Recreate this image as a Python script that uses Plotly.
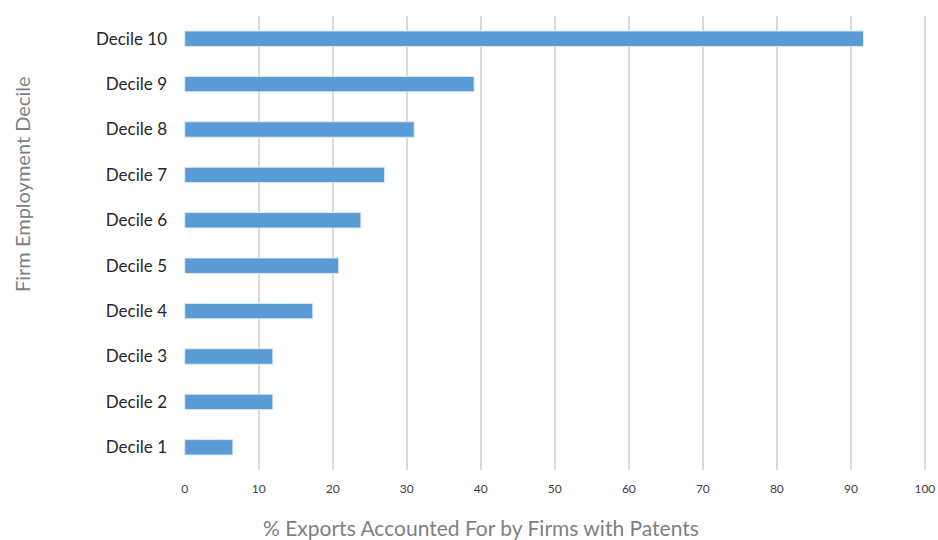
import plotly.graph_objects as go

# Share of exports accounted for by firms holding patents, by employment decile
deciles = ["Decile 1", "Decile 2", "Decile 3", "Decile 4", "Decile 5",
           "Decile 6", "Decile 7", "Decile 8", "Decile 9", "Decile 10"]
export_share = [6.5, 11.9, 11.9, 17.3, 20.8, 23.8, 27.0, 31.0, 39.1, 91.7]
x_ticks = [0, 10, 20, 30, 40, 50, 60, 70, 80, 90, 100]

FONT = "Lato"
TITLE_GREY = "#7f7f7f"
W, H = 938, 540
M_L, M_R, M_T, M_B = 184, 12, 16, 70
PLOT_W = W - M_L - M_R
PLOT_H = H - M_T - M_B

fig = go.Figure(
    go.Bar(
        x=export_share,
        y=deciles,
        orientation="h",
        marker=dict(color="#5b9bd5", line=dict(color="#ddeaf6", width=1)),
        hoverinfo="x+y",
    )
)

fig.update_layout(
    width=W,
    height=H,
    margin=dict(l=M_L, r=M_R, t=M_T, b=M_B),
    paper_bgcolor="white",
    plot_bgcolor="white",
    bargap=0.66,
    showlegend=False,
    font=dict(family=FONT, color="#404040"),
    annotations=[
        # axis titles placed in paper coordinates
        dict(
            text="% Exports Accounted For by Firms with Patents",
            xref="paper", yref="paper",
            x=(481 - M_L) / PLOT_W, y=(H - M_B - 527) / PLOT_H,
            xanchor="center", yanchor="middle",
            showarrow=False,
            font=dict(family=FONT, size=21, color=TITLE_GREY),
        ),
        dict(
            text="Firm Employment Decile",
            xref="paper", yref="paper",
            x=(22 - M_L) / PLOT_W, y=(H - M_B - 185) / PLOT_H,
            xanchor="center", yanchor="middle",
            textangle=-90,
            showarrow=False,
            font=dict(family=FONT, size=20, color=TITLE_GREY),
        ),
    ],
)

fig.update_xaxes(
    range=[-0.1, 100.15],
    tickvals=x_ticks,
    ticktext=[str(v) for v in x_ticks],
    showgrid=True,
    gridcolor="#d9d9d9",
    gridwidth=1.5,
    zeroline=False,
    showline=False,
    ticks="",
    automargin=False,
    tickfont=dict(family=FONT, size=12, color="#404040"),
    ticklabelstandoff=10,
)

fig.update_yaxes(
    categoryorder="array",
    categoryarray=deciles,
    showgrid=False,
    zeroline=False,
    showline=False,
    ticks="",
    automargin=False,
    tickfont=dict(family=FONT, size=17, color="#262626"),
    ticklabelstandoff=16,
)

fig.write_html("out.html")
